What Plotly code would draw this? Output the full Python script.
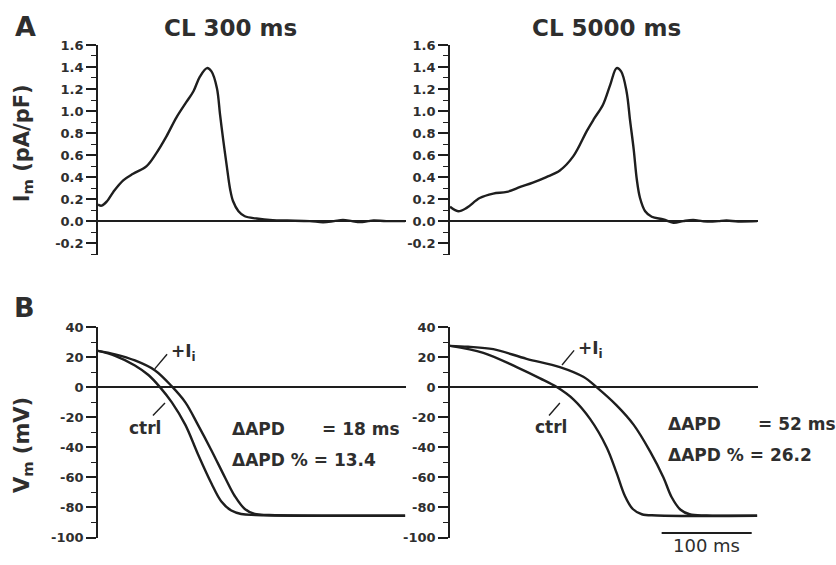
import plotly.graph_objects as go

W, H = 836, 565

# ---------------- data ----------------
# Panel A: membrane current Im (pA/pF) vs time (ms)
t_im_300 = [0, 4, 10, 17, 28, 39, 54, 65, 76, 87, 98, 106, 113, 121, 126, 132, 135.5, 139, 143,
            146.7, 150, 156, 163, 176, 194, 210, 235, 250, 262, 272, 282, 291, 300, 306, 320, 341]
im_300 = [0.15, 0.14, 0.18, 0.265, 0.37, 0.43, 0.50, 0.62, 0.77, 0.94, 1.08, 1.18, 1.31, 1.39, 1.36,
          1.21, 0.97, 0.74, 0.50, 0.29, 0.18, 0.09, 0.044, 0.024, 0.009, 0.005, 0.0, -0.01, 0.0, 0.01,
          0.0, -0.008, 0.0, 0.005, 0.0, 0.0]

t_im_5000 = [0, 9, 18.5, 33, 48, 63, 78, 92, 107, 122, 137, 152, 160, 170, 178, 185, 190, 196, 200,
             204, 207.4, 211, 216.7, 224, 237, 248, 259, 270, 280, 289, 298, 307, 320, 341]
im_5000 = [0.13, 0.09, 0.12, 0.21, 0.25, 0.265, 0.31, 0.35, 0.40, 0.46, 0.59, 0.82, 0.93, 1.06, 1.24,
           1.39, 1.36, 1.18, 0.91, 0.65, 0.38, 0.21, 0.09, 0.04, 0.015, -0.015, 0.0, 0.01, 0.0, -0.005,
           0.0, 0.005, -0.003, 0.0]

# Panel B: membrane potential Vm (mV) vs time (ms)
t_ctrl_300 = [0, 19, 41, 56, 69, 82, 97, 111, 126, 137, 148, 159, 175, 341]
v_ctrl_300 = [24.3, 21, 14.6, 8.2, 0, -10, -25, -44.5, -64, -76, -82, -84.3, -85, -85.5]
t_ii_300 = [0, 19, 41, 63, 82, 97, 111, 126, 141, 152, 163, 174, 190, 341]
v_ii_300 = [24.3, 22, 17.9, 11.4, 0.6, -10, -25, -42, -60, -72.5, -81, -84.3, -85, -85.5]

t_ctrl_5000 = [0, 37, 74, 100, 119, 137, 155.5, 174, 185, 194, 203, 213, 230, 341]
v_ctrl_5000 = [27.6, 23, 13.5, 6, 0, -8, -21, -40, -57, -72, -81, -84.5, -85.3, -85.5]
t_ii_5000 = [0, 20, 48, 85, 122, 148, 163, 185, 204, 222, 237, 246, 256, 266, 285, 341]
v_ii_5000 = [27.6, 27, 25.4, 19, 13.5, 7, 0, -12, -25, -42.5, -60, -73, -81.5, -84.5, -85.3, -85.5]

titles = ["CL 300 ms", "CL 5000 ms"]
im_ticks = [-0.2, 0.0, 0.2, 0.4, 0.6, 0.8, 1.0, 1.2, 1.4, 1.6]
im_ticktext = ["-0.2", "0.0", "0.2", "0.4", "0.6", "0.8", "1.0", "1.2", "1.4", "1.6"]
vm_ticks = [-100, -80, -60, -40, -20, 0, 20, 40]
vm_ticktext = ["-100", "-80", "-60", "-40", "-20", "0", "20", "40"]
scalebar_t = [235, 335]
scalebar_v = [-97, -97]
dapd_texts = [("= 18 ms", "13.4"), ("= 52 ms", "26.2")]

# ---------------- layout helpers ----------------
def px(x):
    return x / W

def py(y):
    return 1 - y / H

INK = "#1e1e1e"
TXT = "#2e2e2e"
FONT = "DejaVu Sans, Arial, sans-serif"

fig = go.Figure()

line = dict(color=INK, width=2.4, shape="spline", smoothing=1.0)
fig.add_trace(go.Scatter(x=t_im_300, y=im_300, xaxis="x", yaxis="y", mode="lines", line=line))
fig.add_trace(go.Scatter(x=t_im_5000, y=im_5000, xaxis="x2", yaxis="y2", mode="lines", line=line))
fig.add_trace(go.Scatter(x=t_ctrl_300, y=v_ctrl_300, xaxis="x3", yaxis="y3", mode="lines", line=line))
fig.add_trace(go.Scatter(x=t_ii_300, y=v_ii_300, xaxis="x3", yaxis="y3", mode="lines", line=line))
fig.add_trace(go.Scatter(x=t_ctrl_5000, y=v_ctrl_5000, xaxis="x4", yaxis="y4", mode="lines", line=line))
fig.add_trace(go.Scatter(x=t_ii_5000, y=v_ii_5000, xaxis="x4", yaxis="y4", mode="lines", line=line))
# scale bar
fig.add_trace(go.Scatter(x=scalebar_t, y=scalebar_v, xaxis="x4", yaxis="y4", mode="lines",
                         line=dict(color=INK, width=2), cliponaxis=False))

xdom_l = [px(98), px(406)]
xdom_r = [px(450), px(758)]
ydom_t = [py(255), py(39)]
ydom_b = [py(545), py(329)]

xcommon = dict(range=[0, 342], visible=False, fixedrange=True)
tickfont = dict(family=FONT, size=13, color=TXT, weight="bold")

def yax(dom, rng, ticks, ticktext, minor_dt, anchor):
    return dict(domain=dom, range=rng, anchor=anchor, showgrid=False,
                showline=True, linecolor=INK, linewidth=1.6,
                ticks="outside", ticklen=10, tickwidth=1.6, tickcolor=INK,
                tickvals=ticks, ticktext=ticktext, tickfont=tickfont,
                minor=dict(dtick=minor_dt, ticks="outside", ticklen=5, tickwidth=1.3, tickcolor=INK,
                           showgrid=False),
                zeroline=True, zerolinecolor=INK, zerolinewidth=1.6)

fig.update_layout(
    width=W, height=H, margin=dict(l=0, r=0, t=0, b=0),
    paper_bgcolor="white", plot_bgcolor="white", showlegend=False,
    xaxis=dict(domain=xdom_l, anchor="y", **xcommon),
    xaxis2=dict(domain=xdom_r, anchor="y2", **xcommon),
    xaxis3=dict(domain=xdom_l, anchor="y3", **xcommon),
    xaxis4=dict(domain=xdom_r, anchor="y4", **xcommon),
    yaxis=yax(ydom_t, [-0.31, 1.6], im_ticks, im_ticktext, 0.1, "x"),
    yaxis2=yax(ydom_t, [-0.31, 1.6], im_ticks, im_ticktext, 0.1, "x2"),
    yaxis3=yax(ydom_b, [-100, 40], vm_ticks, vm_ticktext, 10, "x3"),
    yaxis4=yax(ydom_b, [-100, 40], vm_ticks, vm_ticktext, 10, "x4"),
)

ann = []
def txt(x, y, s, size, bold=False, xanchor="center", yanchor="middle", angle=0, color=TXT):
    ann.append(dict(x=x, y=y, xref="paper", yref="paper", text=s, showarrow=False,
                    xanchor=xanchor, yanchor=yanchor, textangle=angle,
                    font=dict(family=FONT, size=size, color=color, weight="bold" if bold else "normal")))

txt(px(25), py(20), "A", 27, True)
txt(px(24), py(309), "B", 27, True)
txt(px(230), py(22), titles[0], 23, True)
txt(px(606), py(22), titles[1], 23, True)
txt(px(23), py(140), "I<sub>m</sub> (pA/pF)", 21, True, angle=-90)
txt(px(23), py(450), "V<sub>m</sub> (mV)", 21, True, angle=-90)

# curve labels (data coords)
def dtxt(xr, yr, x, y, s, xanchor="center"):
    ann.append(dict(x=x, y=y, xref=xr, yref=yr, text=s, showarrow=False, xanchor=xanchor, yanchor="middle",
                    font=dict(family=FONT, size=17, color=TXT, weight="bold")))

dtxt("x3", "y3", 79, 23, "+I<sub>i</sub>", "left")
dtxt("x3", "y3", 52, -27, "ctrl")
dtxt("x4", "y4", 140, 25, "+I<sub>i</sub>", "left")
dtxt("x4", "y4", 112, -26.5, "ctrl")

# delta APD texts
txt(px(230), py(433), "ΔAPD", 17, True, xanchor="left")
txt(px(320), py(433), dapd_texts[0][0], 17, True, xanchor="left")
txt(px(230), py(465), "ΔAPD % = " + dapd_texts[0][1], 17, True, xanchor="left")
txt(px(666), py(428), "ΔAPD", 17, True, xanchor="left")
txt(px(756), py(428), dapd_texts[1][0], 17, True, xanchor="left")
txt(px(666), py(460), "ΔAPD % = " + dapd_texts[1][1], 17, True, xanchor="left")

# scale bar label
ann.append(dict(x=sum(scalebar_t) / 2, y=py(553), xref="x4", yref="paper", text="100 ms", showarrow=False,
                xanchor="center", yanchor="middle", font=dict(family=FONT, size=18, color=TXT)))

fig.update_layout(annotations=ann)

# leader lines
leaders = [("x3", "y3", 63, 12.3, 76.7, 22), ("x3", "y3", 61, -18.8, 74.4, -10.4),
           ("x4", "y4", 124.4, 14.9, 137.8, 24.6), ("x4", "y4", 110, -18.8, 122, -10.4)]
for xr, yr, x0, y0, x1, y1 in leaders:
    fig.add_shape(type="line", xref=xr, yref=yr, x0=x0, y0=y0, x1=x1, y1=y1,
                  line=dict(color=INK, width=1.4))

fig.write_html("out.html")
